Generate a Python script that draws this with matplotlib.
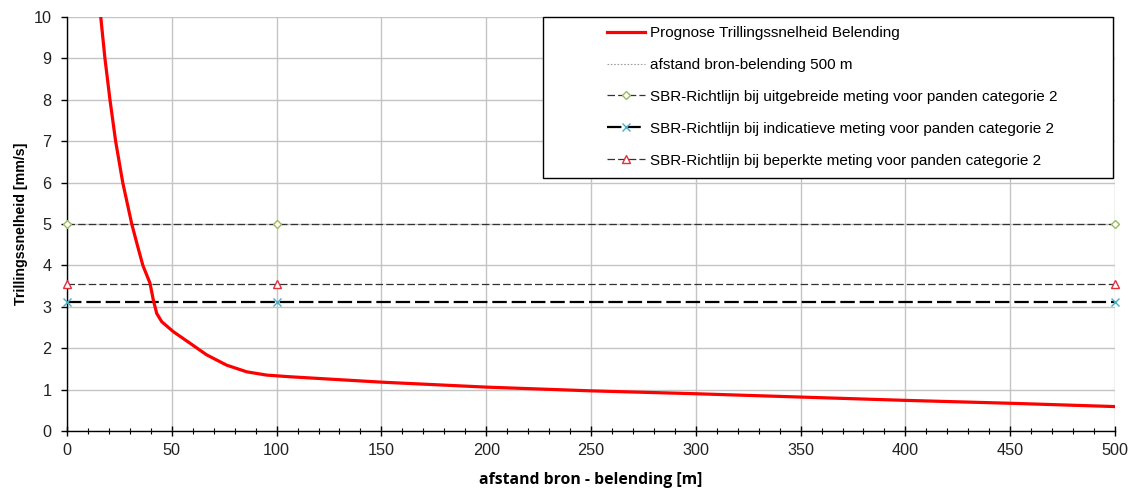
import matplotlib
matplotlib.use("Agg")
import matplotlib.pyplot as plt
from matplotlib.patches import Rectangle
from matplotlib.ticker import MultipleLocator

plt.rcParams['font.family'] = ['Liberation Sans', 'DejaVu Sans']

# prognose curve
afstand = [16.1, 18.1, 20.5, 23.2, 26.6, 30.9, 33.5, 36.2, 39.6, 41.2, 42.8, 45.2, 50.7,
           58.7, 66.6, 76.2, 85.7, 95.3, 106.4, 150, 200, 250, 300, 350, 400, 450, 500]
snelheid = [10, 9, 8, 7, 6, 5, 4.5, 4.0, 3.57, 3.16, 2.84, 2.64, 2.40,
            2.12, 1.84, 1.59, 1.43, 1.35, 1.31, 1.18, 1.06, 0.97, 0.90, 0.82, 0.74, 0.67, 0.59]

# guideline lines
sbr_x = [0, 100, 500]
sbr_uitgebreid = [5.0, 5.0, 5.0]
sbr_indicatief = [3.12, 3.12, 3.12]
sbr_beperkt = [3.55, 3.55, 3.55]

# distance marker line
bron_x = [500, 500]
bron_y = [0, 10]

labels = [
    "Prognose Trillingssnelheid Belending",
    "afstand bron-belending 500 m",
    "SBR-Richtlijn bij uitgebreide meting voor panden categorie 2",
    "SBR-Richtlijn bij indicatieve meting voor panden categorie 2",
    "SBR-Richtlijn bij beperkte meting voor panden categorie 2",
]

fig = plt.figure(figsize=(11.34, 4.9), dpi=100)
ax = fig.add_axes([67 / 1134, 1 - 431 / 490, 1048 / 1134, 414 / 490])

h1, = ax.plot(afstand, snelheid, color='#ff0000', lw=2.3, zorder=5, label=labels[0])
h2, = ax.plot(bron_x, bron_y, color='#a0a0a0', lw=0.8, ls=(0, (1.5, 1.5)), zorder=3, label=labels[1])
h3, = ax.plot(sbr_x, sbr_uitgebreid, color='#333333', lw=0.9, ls=(0, (6, 2.5)),
              marker='D', ms=4.5, mfc='white', mec='#9bbb59', mew=1, zorder=4,
              clip_on=False, label=labels[2])
h4, = ax.plot(sbr_x, sbr_indicatief, color='black', lw=1.6, ls=(0, (6.5, 2.2)),
              marker='x', ms=6, mec='#4bacc6', mew=1, zorder=4,
              clip_on=False, label=labels[3])
h5, = ax.plot(sbr_x, sbr_beperkt, color='#333333', lw=0.9, ls=(0, (6, 2.5)),
              marker='^', ms=6, mfc='white', mec='#e0303d', mew=1, zorder=4,
              clip_on=False, label=labels[4])

ax.set_xlim(0, 500)
ax.set_ylim(0, 10)
ax.xaxis.set_major_locator(MultipleLocator(50))
ax.xaxis.set_minor_locator(MultipleLocator(10))
ax.yaxis.set_major_locator(MultipleLocator(1))
ax.grid(True, which='major', color='#c4c4c4', lw=1, zorder=0)
ax.set_axisbelow(True)

for s in ['top', 'right']:
    ax.spines[s].set_visible(False)
for s in ['left', 'bottom']:
    ax.spines[s].set_color('black')
    ax.spines[s].set_linewidth(1)

ax.tick_params(axis='x', which='major', direction='inout', length=7, width=1,
               labelsize=11.7, labelcolor='#222222', pad=5)
ax.tick_params(axis='x', which='minor', direction='inout', length=5, width=0.8)
ax.tick_params(axis='y', direction='out', length=4, width=1, labelsize=11.7,
               labelcolor='#222222', pad=7)

ax.set_xlabel("afstand bron - belending [m]", fontsize=11.3, fontweight='bold',
              family=['Open Sans', 'DejaVu Sans'], labelpad=10)
ax.set_ylabel("Trillingssnelheid [mm/s]", fontsize=10.2, fontweight='bold', labelpad=4)

# legend frame drawn separately so the entries can sit to the right
frame = Rectangle((476 / 1048, 253 / 414), 570 / 1048, 161 / 414, transform=ax.transAxes,
                  facecolor='white', edgecolor='black', lw=1, zorder=8, clip_on=False)
ax.add_patch(frame)
leg = ax.legend(handles=[h1, h2, h3, h4, h5], loc='upper left',
                bbox_to_anchor=((607 - 67) / 1048, (431 - 26) / 414),
                frameon=False, fontsize=11, handlelength=2.5, handletextpad=0.33,
                labelspacing=1.17, borderpad=0, borderaxespad=0)
leg.set_zorder(9)

fig.savefig("out.png", dpi=100)
